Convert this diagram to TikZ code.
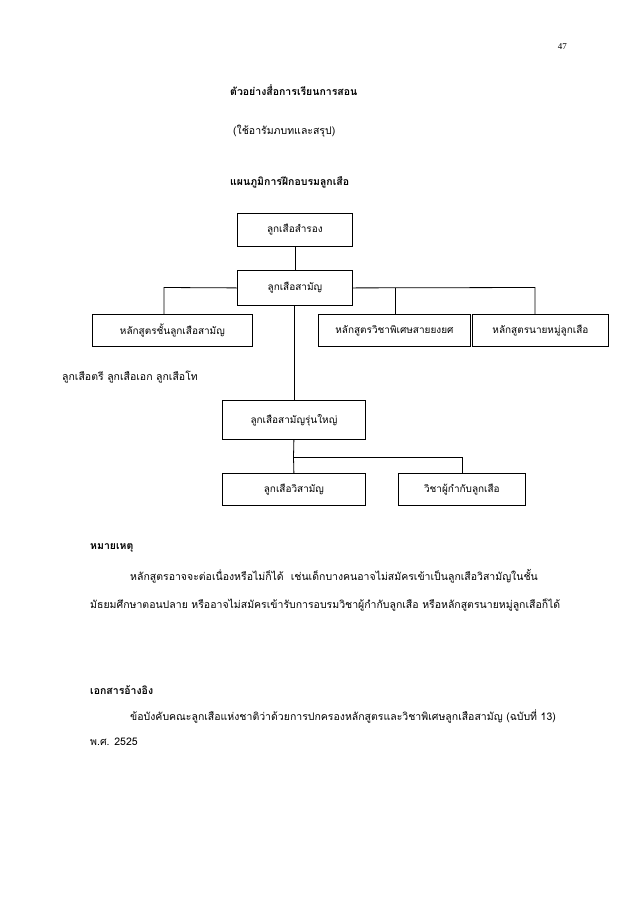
\documentclass[tikz,border=0pt]{standalone}
\usepackage{fontspec}
\setmainfont{Liberation Serif}
\newfontfamily\thai[Script=Thai]{Loma}
\begin{document}
\begin{tikzpicture}[x=1pt,y=-1pt,
  box/.style={draw,line width=0.8pt,minimum height=33pt,anchor=north west,inner sep=0pt,font=\thai\fontsize{10}{12}\selectfont},
  txt/.style={anchor=west,inner sep=0pt,font=\thai\fontsize{10.5}{12}\selectfont},
  bt/.style={txt,font=\thai\bfseries\fontsize{10.5}{12}\selectfont},
  ln/.style={line width=0.8pt}]
\fill[white] (0,0) rectangle (638,903);
\useasboundingbox (0,0) rectangle (638,903);
\node[anchor=east,inner sep=0pt,font=\fontsize{9}{10}\selectfont] (pg) at (567,47) {47};
\node[bt] (t1) at (230,90) {ตัวอย่างสื่อการเรียนการสอน};
\node[txt] (t2) at (233,131) {(ใช้อารัมภบทและสรุป)};
\node[bt] (t3) at (230,182) {แผนภูมิการฝึกอบรมลูกเสือ};
\node[box,minimum width=115pt] (b1) at (237,213) {ลูกเสือสำรอง};
\node[box,minimum width=115pt,minimum height=35pt] (b2) at (237,270) {ลูกเสือสามัญ};
\node[box,minimum width=160pt,minimum height=32pt] (c1) at (92,314) {หลักสูตรชั้นลูกเสือสามัญ};
\node[box,minimum width=152pt,minimum height=32pt] (c2) at (318,314) {หลักสูตรวิชาพิเศษสายยงยศ};
\node[box,minimum width=136pt,minimum height=32pt] (c3) at (472,314) {หลักสูตรนายหมู่ลูกเสือ};
\node[txt] (note) at (62,377) {ลูกเสือตรี ลูกเสือเอก ลูกเสือโท};
\node[box,minimum width=143pt,minimum height=39pt] (d1) at (222,400) {ลูกเสือสามัญรุ่นใหญ่};
\node[box,minimum width=143pt,minimum height=32pt] (e1) at (222,473) {ลูกเสือวิสามัญ};
\node[box,minimum width=127pt,minimum height=32pt] (e2) at (398,473) {วิชาผู้กำกับลูกเสือ};
\coordinate (j1) at (293.5,457);
\coordinate (L) at (164,287.5);
\coordinate (M) at (395,287.5);
\coordinate (R) at (535,287.5);
\draw[ln] (b1.south) -- (b2.north);
\draw[ln] (b2.west) -- (L) -- (L |- c1.north);
\draw[ln] (b2.east) -- (R) -- (R |- c3.north);
\draw[ln] (M) -- (M |- c2.north);
\draw[ln] (d1.north |- b2.south) -- (d1.north);
\draw[ln] (d1.south) -- (j1) -- (e1.north);
\draw[ln] (j1) -- (462,457) -- (462,473);
\node[bt] (h1) at (90,548) {หมายเหตุ};
\node[txt] (p1) at (130,576) {หลักสูตรอาจจะต่อเนื่องหรือไม่ก็ได้ \ เช่นเด็กบางคนอาจไม่สมัครเข้าเป็นลูกเสือวิสามัญในชั้น};
\node[txt] (p2) at (90,605) {มัธยมศึกษาตอนปลาย หรืออาจไม่สมัครเข้ารับการอบรมวิชาผู้กำกับลูกเสือ หรือหลักสูตรนายหมู่ลูกเสือก็ได้};
\node[bt] (h2) at (90,690) {เอกสารอ้างอิง};
\node[txt] (r1) at (130,716) {ข้อบังคับคณะลูกเสือแห่งชาติว่าด้วยการปกครองหลักสูตรและวิชาพิเศษลูกเสือสามัญ (ฉบับที่ 13)};
\node[txt] (r2) at (90,742) {พ.ศ. 2525};
\end{tikzpicture}
\end{document}
